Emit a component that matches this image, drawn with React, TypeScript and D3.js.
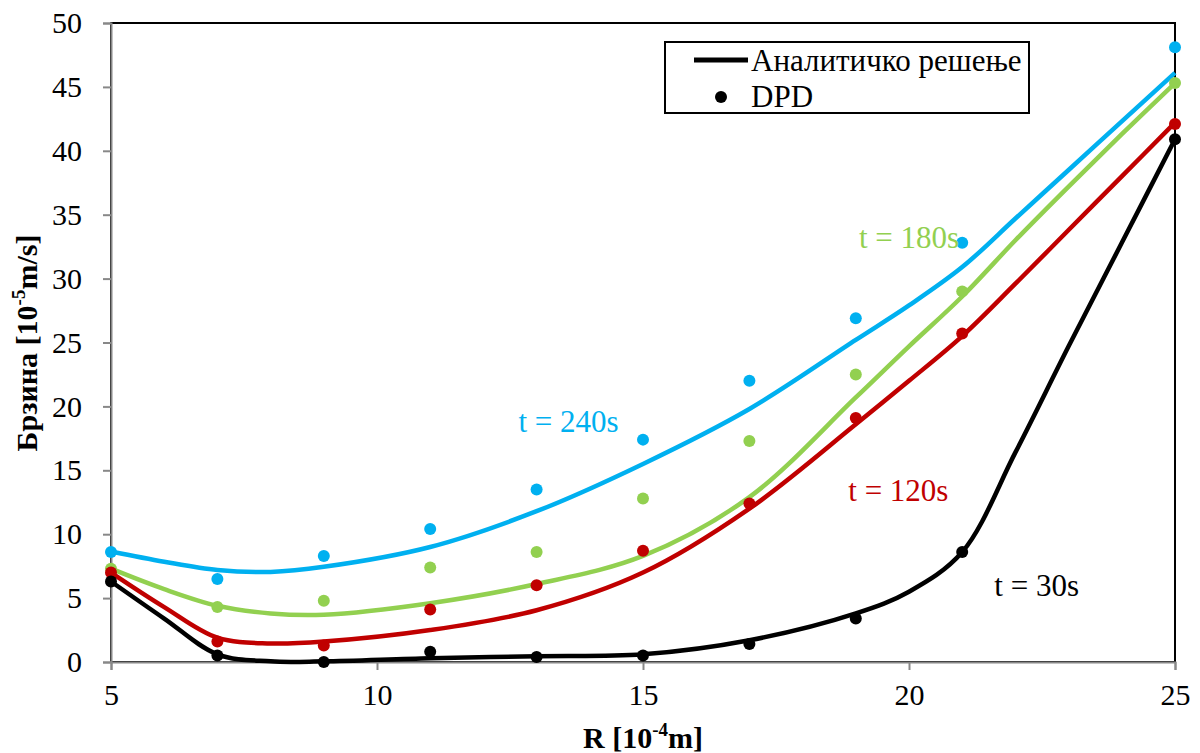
import { useRef, useEffect } from 'react';
import * as d3 from 'd3';

// DPD points (x = R [10^-4 m])
const dpdX = [5, 7, 9, 11, 13, 15, 17, 19, 21, 25];
const dpd30 = [6.3, 0.5, 0.0, 0.8, 0.4, 0.5, 1.4, 3.4, 8.6, 40.9];
const dpd120 = [7.0, 1.6, 1.3, 4.1, 6.0, 8.7, 12.4, 19.1, 25.7, 42.1];
const dpd180 = [7.3, 4.3, 4.8, 7.4, 8.6, 12.8, 17.3, 22.5, 29.0, 45.3];
const dpd240 = [8.6, 6.5, 8.3, 10.4, 13.5, 17.4, 22.0, 26.9, 32.8, 48.1];

// analytic solution
const lineX = [5, 6, 7, 8, 9, 11, 13, 15, 17, 19, 20, 21, 22, 23, 24, 25];
const line30 = [6.3, 3.4, 0.6, 0.05, 0.05, 0.3, 0.45, 0.6, 1.7, 3.8, 5.5, 8.6, 16.4, 24.7, 32.8, 40.9];
const line120 = [7.0, 4.3, 1.9, 1.45, 1.6, 2.5, 4.05, 7.0, 12.0, 18.6, 22.0, 25.5, 29.6, 33.8, 38.0, 42.2];
const line180 = [7.3, 5.7, 4.4, 3.8, 3.7, 4.6, 6.1, 8.3, 12.9, 20.7, 24.7, 28.6, 33.0, 37.2, 41.3, 45.3];
const line240 = [8.65, 7.85, 7.2, 7.05, 7.45, 9.0, 11.8, 15.5, 19.8, 25.2, 27.9, 30.9, 34.7, 38.5, 42.3, 46.1];

const seriesNames = ['t = 30s', 't = 120s', 't = 180s', 't = 240s'];
const seriesColors = ['#000000', '#C00000', '#92D050', '#00B0F0'];
const labelPos = [[22.4, 5.2], [19.8, 12.6], [20.0, 32.4], [13.6, 18.0]]; // data coords for annotations

const xTicks = [5, 10, 15, 20, 25];
const yTicks = [0, 5, 10, 15, 20, 25, 30, 35, 40, 45, 50];

export default function App() {
  const ref = useRef<SVGSVGElement>(null);

  useEffect(() => {
    const width = 1200;
    const height = 753;
    const margin = { top: 23, right: 25, bottom: 91, left: 111 };
    const font = "'Liberation Serif', 'Times New Roman', serif";

    const x = d3.scaleLinear().domain([5, 25]).range([margin.left, width - margin.right]);
    const y = d3.scaleLinear().domain([0, 50]).range([height - margin.bottom, margin.top]);

    const svg = d3.select(ref.current)
      .attr('width', width)
      .attr('height', height)
      .style('font-family', font);
    svg.selectAll('*').remove();

    // plot area border
    svg.append('rect')
      .attr('x', x(5)).attr('y', y(50))
      .attr('width', x(25) - x(5)).attr('height', y(0) - y(50))
      .attr('fill', 'none').attr('stroke', '#000').attr('stroke-width', 2);

    // axes
    const yAxis = svg.append('g')
      .attr('transform', `translate(${x(5)},0)`)
      .call(d3.axisLeft(y).tickValues(yTicks).tickSize(8).tickPadding(21));
    yAxis.select('.domain').attr('stroke', '#888').attr('stroke-width', 2);
    yAxis.selectAll('line').attr('stroke', '#888').attr('stroke-width', 2);
    yAxis.selectAll('text').attr('font-family', font).attr('font-size', 30).attr('fill', '#000');

    const xAxis = svg.append('g')
      .attr('transform', `translate(0,${y(0)})`)
      .call(d3.axisBottom(x).tickValues(xTicks).tickSize(8).tickPadding(14));
    xAxis.select('.domain').attr('stroke', '#888').attr('stroke-width', 2);
    xAxis.selectAll('line').attr('stroke', '#888').attr('stroke-width', 2);
    xAxis.selectAll('text').attr('font-family', font).attr('font-size', 30).attr('fill', '#000');

    // axis titles
    const xt = svg.append('text')
      .attr('x', 643).attr('y', 748)
      .attr('text-anchor', 'middle')
      .attr('font-size', 30).attr('font-weight', 'bold');
    xt.append('tspan').text('R [10');
    xt.append('tspan').attr('font-size', 19).attr('dy', -12).text('-4');
    xt.append('tspan').attr('dy', 12).text('m]');

    const yt = svg.append('text')
      .attr('transform', `translate(37,343) rotate(-90)`)
      .attr('text-anchor', 'middle')
      .attr('font-size', 30).attr('font-weight', 'bold');
    yt.append('tspan').text('Брзина [10');
    yt.append('tspan').attr('font-size', 19).attr('dy', -12).text('-5');
    yt.append('tspan').attr('dy', 12).text('m/s]');

    const lines = [line30, line120, line180, line240];
    const dots = [dpd30, dpd120, dpd180, dpd240];

    const lineGen = d3.line<number>()
      .x((_, i) => x(lineX[i]))
      .y(d => y(d))
      .curve(d3.curveCatmullRom.alpha(0.5));

    // draw from top series down so that black is on top
    [3, 2, 1, 0].forEach(s => {
      svg.append('path')
        .attr('d', lineGen(lines[s]))
        .attr('fill', 'none')
        .attr('stroke', seriesColors[s])
        .attr('stroke-width', 4.5);
    });
    [3, 2, 1, 0].forEach(s => {
      svg.append('g').selectAll('circle')
        .data(dots[s])
        .join('circle')
        .attr('cx', (_, i) => x(dpdX[i]))
        .attr('cy', d => y(d))
        .attr('r', 6)
        .attr('fill', seriesColors[s]);
    });

    // series annotations
    seriesNames.forEach((name, s) => {
      svg.append('text')
        .attr('x', x(labelPos[s][0]))
        .attr('y', y(labelPos[s][1]))
        .attr('text-anchor', 'middle')
        .attr('font-size', 31)
        .attr('fill', seriesColors[s])
        .text(name);
    });

    // legend
    const lg = svg.append('g');
    lg.append('rect')
      .attr('x', 665).attr('y', 42).attr('width', 364).attr('height', 71)
      .attr('fill', '#fff').attr('stroke', '#000').attr('stroke-width', 2);
    lg.append('line')
      .attr('x1', 694).attr('x2', 748).attr('y1', 60).attr('y2', 60)
      .attr('stroke', '#000').attr('stroke-width', 5);
    lg.append('text').attr('x', 751).attr('y', 71).attr('font-size', 31).text('Аналитичко решење');
    lg.append('circle').attr('cx', 721).attr('cy', 97).attr('r', 6).attr('fill', '#000');
    lg.append('text').attr('x', 751).attr('y', 107).attr('font-size', 31).text('DPD');
  }, []);

  return (
    <svg ref={ref} style={{ position: 'absolute', left: 0, top: 0 }}></svg>
  );
}
